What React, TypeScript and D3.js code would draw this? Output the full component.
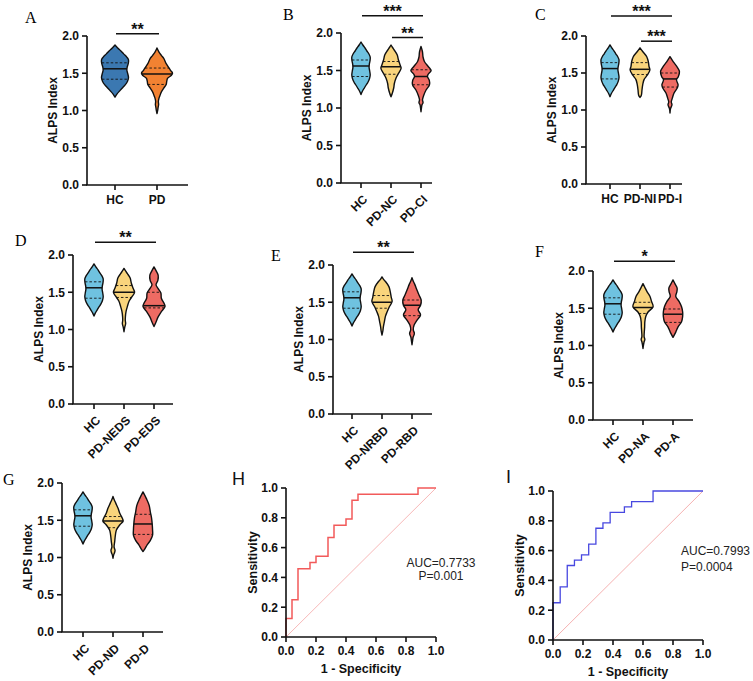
import React from 'react';
import * as d3 from 'd3';

type Prof = [number, number][];

// ---------- Violin density profiles: [ALPS value, relative width] ----------
const HC_prof: Prof = [[1.18,0],[1.22,0.14],[1.27,0.38],[1.31,0.58],[1.34,0.74],[1.39,0.92],[1.44,1.0],[1.49,0.95],[1.54,0.88],[1.58,0.9],[1.63,0.98],[1.68,1.0],[1.72,0.86],[1.76,0.64],[1.8,0.44],[1.84,0.2],[1.88,0]];
const PD_prof: Prof = [[0.96,0],[1.0,0.05],[1.04,0.08],[1.08,0.12],[1.12,0.1],[1.16,0.14],[1.2,0.22],[1.24,0.3],[1.3,0.5],[1.35,0.68],[1.39,0.72],[1.43,0.78],[1.47,1.05],[1.5,1.15],[1.54,1.0],[1.58,0.86],[1.63,0.68],[1.7,0.5],[1.74,0.32],[1.78,0.16],[1.84,0]];
const PDNC_prof: Prof = [[1.15,0],[1.2,0.15],[1.27,0.3],[1.33,0.37],[1.4,0.55],[1.46,0.81],[1.53,1.1],[1.57,1.0],[1.64,0.81],[1.71,0.67],[1.77,0.37],[1.81,0.15],[1.84,0]];
const PDCI_prof: Prof = [[0.95,0],[1.0,0.05],[1.04,0.1],[1.07,0.22],[1.11,0.16],[1.17,0.3],[1.24,0.55],[1.31,0.92],[1.37,0.9],[1.42,0.7],[1.45,0.78],[1.5,1.1],[1.55,0.8],[1.62,0.37],[1.68,0.22],[1.75,0.16],[1.82,0]];
const PDNI_prof: Prof = [[1.17,0],[1.2,0.15],[1.27,0.22],[1.34,0.3],[1.41,0.45],[1.47,0.8],[1.54,1.1],[1.59,1.0],[1.65,0.93],[1.72,0.75],[1.79,0.3],[1.84,0]];
const PDI_prof: Prof = [[0.96,0],[1.02,0.06],[1.07,0.22],[1.11,0.14],[1.16,0.26],[1.23,0.45],[1.3,0.82],[1.34,0.9],[1.41,0.72],[1.45,0.92],[1.52,1.05],[1.59,0.75],[1.65,0.37],[1.72,0]];
const PDNEDS_prof: Prof = [[0.97,0],[1.03,0.08],[1.08,0.18],[1.12,0.14],[1.17,0.15],[1.24,0.22],[1.31,0.37],[1.38,0.55],[1.45,0.93],[1.5,1.15],[1.55,1.0],[1.62,0.8],[1.69,0.67],[1.75,0.37],[1.79,0.15],[1.82,0]];
const PDEDS_prof: Prof = [[1.04,0],[1.1,0.22],[1.17,0.45],[1.24,0.8],[1.31,1.2],[1.35,1.1],[1.42,0.8],[1.49,0.75],[1.55,0.45],[1.6,0.22],[1.66,0.42],[1.73,0.45],[1.79,0.22],[1.84,0]];
const PDNRBD_prof: Prof = [[1.06,0],[1.12,0.1],[1.17,0.15],[1.24,0.26],[1.31,0.37],[1.37,0.55],[1.44,0.8],[1.51,1.1],[1.57,1.0],[1.64,0.9],[1.71,0.75],[1.78,0.37],[1.81,0.15],[1.84,0]];
const PDRBD_prof: Prof = [[0.93,0],[0.98,0.06],[1.03,0.12],[1.08,0.26],[1.13,0.14],[1.19,0.22],[1.26,0.55],[1.33,0.93],[1.4,0.67],[1.46,0.93],[1.53,1.0],[1.6,0.75],[1.66,0.55],[1.74,0.3],[1.79,0.12],[1.83,0]];
const PDNA_prof: Prof = [[0.96,0],[1.01,0.06],[1.05,0.12],[1.08,0.2],[1.12,0.12],[1.18,0.14],[1.25,0.18],[1.32,0.2],[1.39,0.3],[1.45,0.55],[1.52,1.1],[1.59,0.93],[1.66,0.75],[1.72,0.45],[1.78,0.2],[1.83,0]];
const PDA_prof: Prof = [[1.11,0],[1.18,0.3],[1.25,0.55],[1.32,0.93],[1.39,1.05],[1.45,1.05],[1.52,0.93],[1.59,0.67],[1.66,0.3],[1.72,0.42],[1.77,0.45],[1.82,0.25],[1.88,0]];
const PDND_prof: Prof = [[0.99,0],[1.03,0.06],[1.07,0.18],[1.1,0.22],[1.14,0.12],[1.21,0.18],[1.3,0.26],[1.37,0.37],[1.44,0.75],[1.49,1.1],[1.53,1.0],[1.59,0.75],[1.66,0.55],[1.73,0.3],[1.78,0.12],[1.82,0]];
const PDD_prof: Prof = [[1.08,0],[1.12,0.22],[1.17,0.45],[1.23,0.8],[1.3,1.04],[1.37,1.04],[1.45,1.0],[1.53,0.93],[1.61,0.8],[1.7,0.67],[1.79,0.37],[1.88,0]];

// ---------- Quartiles: [Q1, median, Q3] ----------
const HC_q = [1.42, 1.56, 1.64];
const PD_q = [1.35, 1.49, 1.57];
const PDNC_q = [1.45, 1.55, 1.62];
const PDCI_q = [1.31, 1.42, 1.51];
const PDNI_q = [1.48, 1.55, 1.64];
const PDI_q = [1.31, 1.42, 1.5];
const PDNEDS_q = [1.43, 1.5, 1.59];
const PDEDS_q = [1.29, 1.32, 1.5];
const PDNRBD_q = [1.42, 1.5, 1.59];
const PDRBD_q = [1.32, 1.46, 1.53];
const PDNA_q = [1.43, 1.51, 1.58];
const PDA_q = [1.31, 1.42, 1.49];
const PDND_q = [1.4, 1.49, 1.55];
const PDD_q = [1.31, 1.45, 1.58];

const profiles: Record<string, Prof> = {
  'HC': HC_prof, 'PD': PD_prof, 'PD-NC': PDNC_prof, 'PD-CI': PDCI_prof,
  'PD-NI': PDNI_prof, 'PD-I': PDI_prof, 'PD-NEDS': PDNEDS_prof, 'PD-EDS': PDEDS_prof,
  'PD-NRBD': PDNRBD_prof, 'PD-RBD': PDRBD_prof, 'PD-NA': PDNA_prof, 'PD-A': PDA_prof,
  'PD-ND': PDND_prof, 'PD-D': PDD_prof,
};
const quartiles: Record<string, number[]> = {
  'HC': HC_q, 'PD': PD_q, 'PD-NC': PDNC_q, 'PD-CI': PDCI_q,
  'PD-NI': PDNI_q, 'PD-I': PDI_q, 'PD-NEDS': PDNEDS_q, 'PD-EDS': PDEDS_q,
  'PD-NRBD': PDNRBD_q, 'PD-RBD': PDRBD_q, 'PD-NA': PDNA_q, 'PD-A': PDA_q,
  'PD-ND': PDND_q, 'PD-D': PDD_q,
};

// ---------- Panel categories & significance ----------
const groupsA = ['HC', 'PD'];
const groupsB = ['HC', 'PD-NC', 'PD-CI'];
const groupsC = ['HC', 'PD-NI', 'PD-I'];
const groupsD = ['HC', 'PD-NEDS', 'PD-EDS'];
const groupsE = ['HC', 'PD-NRBD', 'PD-RBD'];
const groupsF = ['HC', 'PD-NA', 'PD-A'];
const groupsG = ['HC', 'PD-ND', 'PD-D'];

type Sig = { from: string; to: string; label: string; level: number };
const sigA: Sig[] = [{ from: 'HC', to: 'PD', label: '**', level: 2.03 }];
const sigB: Sig[] = [{ from: 'HC', to: 'PD-CI', label: '***', level: 2.23 }, { from: 'PD-NC', to: 'PD-CI', label: '**', level: 1.94 }];
const sigC: Sig[] = [{ from: 'HC', to: 'PD-I', label: '***', level: 2.27 }, { from: 'PD-NI', to: 'PD-I', label: '***', level: 1.93 }];
const sigD: Sig[] = [{ from: 'HC', to: 'PD-EDS', label: '**', level: 2.17 }];
const sigE: Sig[] = [{ from: 'HC', to: 'PD-RBD', label: '**', level: 2.17 }];
const sigF: Sig[] = [{ from: 'HC', to: 'PD-A', label: '*', level: 2.13 }];
const sigG: Sig[] = [];

const yTicksViolin = [0, 0.5, 1.0, 1.5, 2.0];

// ---------- ROC data ----------
const rocH_fpr = [0, 0, 0.04, 0.08, 0.16, 0.2, 0.28, 0.32, 0.4, 0.44, 0.48, 0.88, 1.0];
const rocH_tpr = [0, 0.125, 0.25, 0.458, 0.5, 0.542, 0.667, 0.75, 0.792, 0.917, 0.958, 1.0, 1.0];
const rocI_fpr = [0, 0, 0.048, 0.095, 0.143, 0.19, 0.238, 0.286, 0.333, 0.381, 0.476, 0.524, 0.667, 1.0];
const rocI_tpr = [0, 0.25, 0.357, 0.5, 0.536, 0.571, 0.643, 0.75, 0.786, 0.857, 0.893, 0.929, 1.0, 1.0];
const rocTicks = [0, 0.2, 0.4, 0.6, 0.8, 1.0];

// ---------- styling / layout ----------
const SANS = "'Liberation Sans', Arial, Helvetica, sans-serif";
const SERIF = "'Liberation Serif', 'Times New Roman', serif";
const BLUE_DARK = '#3b78b1';
const ORANGE = '#f28232';
const BLUE_LIGHT = '#6fc2e0';
const YELLOW = '#f9d47c';
const RED = '#ee6b63';

type PanelCfg = {
  letter: string; lx: number; ly: number;
  groups: string[]; colors: string[]; sig: Sig[];
  axX: number; yTop: number; yBot: number; c0: number; c1: number; xEnd: number;
  halfW: number; rotate: boolean;
};

const panels: PanelCfg[] = [
  { letter: 'A', lx: 25, ly: 23, groups: groupsA, colors: [BLUE_DARK, ORANGE], sig: sigA, axX: 87, yTop: 36, yBot: 185, c0: 115, c1: 157, xEnd: 188, halfW: 13.5, rotate: false },
  { letter: 'B', lx: 283, ly: 20, groups: groupsB, colors: [BLUE_LIGHT, YELLOW, RED], sig: sigB, axX: 341, yTop: 33, yBot: 183, c0: 361, c1: 421, xEnd: 432, halfW: 9.2, rotate: true },
  { letter: 'C', lx: 535, ly: 20, groups: groupsC, colors: [BLUE_LIGHT, YELLOW, RED], sig: sigC, axX: 586, yTop: 36, yBot: 184, c0: 610, c1: 670, xEnd: 682, halfW: 9, rotate: false },
  { letter: 'D', lx: 15, ly: 246, groups: groupsD, colors: [BLUE_LIGHT, YELLOW, RED], sig: sigD, axX: 73, yTop: 255, yBot: 404, c0: 94, c1: 154, xEnd: 173, halfW: 9.2, rotate: true },
  { letter: 'E', lx: 271, ly: 261, groups: groupsE, colors: [BLUE_LIGHT, YELLOW, RED], sig: sigE, axX: 333, yTop: 265, yBot: 414, c0: 352, c1: 412, xEnd: 432, halfW: 9.2, rotate: true },
  { letter: 'F', lx: 535, ly: 257, groups: groupsF, colors: [BLUE_LIGHT, YELLOW, RED], sig: sigF, axX: 593, yTop: 271, yBot: 420, c0: 613, c1: 673, xEnd: 693, halfW: 9.2, rotate: true },
  { letter: 'G', lx: 3, ly: 485, groups: groupsG, colors: [BLUE_LIGHT, YELLOW, RED], sig: sigG, axX: 62, yTop: 483, yBot: 632, c0: 83, c1: 143, xEnd: 163, halfW: 9.2, rotate: true },
];

function ViolinPanel({ cfg }: { cfg: PanelCfg }) {
  const y = d3.scaleLinear().domain([0, 2]).range([cfg.yBot, cfg.yTop]);
  const x = d3.scalePoint<string>().domain(cfg.groups).range([cfg.c0, cfg.c1]);
  const midY = (cfg.yTop + cfg.yBot) / 2;
  return (
    <g>
      <text x={cfg.lx} y={cfg.ly} fontFamily={SERIF} fontSize={16}>{cfg.letter}</text>
      {cfg.groups.map((g, i) => {
        const cx = x(g)!;
        const prof = profiles[g];
        const area = d3.area<[number, number]>()
          .x0(d => cx - d[1] * cfg.halfW)
          .x1(d => cx + d[1] * cfg.halfW)
          .y(d => y(d[0]))
          .curve(d3.curveCatmullRom.alpha(0.5));
        const wScale = d3.scaleLinear().domain(prof.map(p => p[0])).range(prof.map(p => p[1]));
        const q = quartiles[g];
        return (
          <g key={g}>
            <path d={area(prof) || ''} fill={cfg.colors[i]} stroke="#111" strokeWidth={1.4} strokeLinejoin="round" />
            {q.map((v, k) => {
              const w = wScale(v) * cfg.halfW;
              return (
                <line key={k} x1={cx - w} x2={cx + w} y1={y(v)} y2={y(v)} stroke="#111"
                  strokeWidth={k === 1 ? 1.5 : 0.9} strokeDasharray={k === 1 ? undefined : '2.5,2'} />
              );
            })}
          </g>
        );
      })}
      <line x1={cfg.axX} x2={cfg.axX} y1={y(2)} y2={cfg.yBot} stroke="#111" strokeWidth={1.6} />
      {yTicksViolin.map(t => (
        <g key={t}>
          <line x1={cfg.axX - 5} x2={cfg.axX} y1={y(t)} y2={y(t)} stroke="#111" strokeWidth={1.6} />
          <text x={cfg.axX - 8} y={y(t)} dy="0.36em" textAnchor="end" fontFamily={SANS} fontWeight="bold" fontSize={12} fill="#111">{t.toFixed(1)}</text>
        </g>
      ))}
      <text transform={`translate(${cfg.axX - 34},${midY}) rotate(-90)`} dy="0.36em" textAnchor="middle" fontFamily={SANS} fontWeight="bold" fontSize={12} fill="#111">ALPS Index</text>
      <line x1={cfg.axX - 0.8} x2={cfg.xEnd} y1={cfg.yBot} y2={cfg.yBot} stroke="#111" strokeWidth={1.6} />
      {cfg.groups.map(g => (
        <g key={g}>
          <line x1={x(g)} x2={x(g)} y1={cfg.yBot} y2={cfg.yBot + 5} stroke="#111" strokeWidth={1.6} />
          {cfg.rotate ? (
            <text transform={`translate(${x(g)! + 4},${cfg.yBot + 14}) rotate(-45)`} dy="0.36em" textAnchor="end" fontFamily={SANS} fontWeight="bold" fontSize={12} fill="#111">{g}</text>
          ) : (
            <text x={x(g)} y={cfg.yBot + 19} textAnchor="middle" fontFamily={SANS} fontWeight="bold" fontSize={12} fill="#111">{g}</text>
          )}
        </g>
      ))}
      {cfg.sig.map((s, i) => {
        const x1 = x(s.from)! + 1;
        const x2 = x(s.to)! + 2;
        const yy = y(s.level);
        return (
          <g key={i}>
            <line x1={x1} x2={x2} y1={yy} y2={yy} stroke="#111" strokeWidth={1.5} />
            <text x={(x1 + x2) / 2} y={yy + 1} textAnchor="middle" fontFamily={SANS} fontWeight="bold" fontSize={16} fill="#111">{s.label}</text>
          </g>
        );
      })}
    </g>
  );
}

type RocCfg = {
  letter: string; lx: number; ly: number; fpr: number[]; tpr: number[]; color: string; diag: string; lw: number;
  x0: number; x1: number; y0: number; y1: number;
  auc: string; p: string; tx: number; ty1: number; ty2: number; anchor: 'middle' | 'start';
};

const rocPanels: RocCfg[] = [
  { letter: 'H', lx: 232, ly: 485, fpr: rocH_fpr, tpr: rocH_tpr, color: '#f25a5a', diag: '#f6b0b0', lw: 1.5,
    x0: 286, x1: 436, y0: 637, y1: 488, auc: 'AUC=0.7733', p: 'P=0.001', tx: 441, ty1: 567, ty2: 580, anchor: 'middle' },
  { letter: 'I', lx: 506, ly: 483, fpr: rocI_fpr, tpr: rocI_tpr, color: '#4848e0', diag: '#f4a8a8', lw: 1.3,
    x0: 553, x1: 703, y0: 640, y1: 491, auc: 'AUC=0.7993', p: 'P=0.0004', tx: 681, ty1: 555, ty2: 571, anchor: 'start' },
];

function RocPanel({ cfg }: { cfg: RocCfg }) {
  const x = d3.scaleLinear().domain([0, 1]).range([cfg.x0, cfg.x1]);
  const y = d3.scaleLinear().domain([0, 1]).range([cfg.y0, cfg.y1]);
  const pts = cfg.fpr.map((f, i) => [f, cfg.tpr[i]] as [number, number]);
  const line = d3.line<[number, number]>().x(d => x(d[0])).y(d => y(d[1])).curve(d3.curveStepAfter);
  return (
    <g>
      <text x={cfg.lx} y={cfg.ly} fontFamily={SANS} fontSize={18} fill="#111">{cfg.letter}</text>
      <line x1={x(0)} y1={y(0)} x2={x(1)} y2={y(1)} stroke={cfg.diag} strokeWidth={0.9} />
      <path d={line(pts) || ''} fill="none" stroke={cfg.color} strokeWidth={cfg.lw} />
      <line x1={cfg.x0} x2={cfg.x0} y1={cfg.y1} y2={cfg.y0} stroke="#111" strokeWidth={1.6} />
      <line x1={cfg.x0} x2={cfg.x1} y1={cfg.y0} y2={cfg.y0} stroke="#111" strokeWidth={1.6} />
      {rocTicks.map(t => (
        <g key={t}>
          <line x1={cfg.x0 - 5} x2={cfg.x0} y1={y(t)} y2={y(t)} stroke="#111" strokeWidth={1.6} />
          <text x={cfg.x0 - 8} y={y(t)} dy="0.36em" textAnchor="end" fontFamily={SANS} fontWeight="bold" fontSize={12} fill="#111">{t.toFixed(1)}</text>
          <line x1={x(t)} x2={x(t)} y1={cfg.y0} y2={cfg.y0 + 5} stroke="#111" strokeWidth={1.6} />
          <text x={x(t)} y={cfg.y0 + 18} textAnchor="middle" fontFamily={SANS} fontWeight="bold" fontSize={12} fill="#111">{t.toFixed(1)}</text>
        </g>
      ))}
      <text transform={`translate(${cfg.x0 - 34},${(cfg.y0 + cfg.y1) / 2}) rotate(-90)`} dy="0.36em" textAnchor="middle" fontFamily={SANS} fontWeight="bold" fontSize={12.5} fill="#111">Sensitivity</text>
      <text x={(cfg.x0 + cfg.x1) / 2} y={cfg.y0 + 36} textAnchor="middle" fontFamily={SANS} fontWeight="bold" fontSize={12.5} fill="#111">1 - Specificity</text>
      <text x={cfg.tx} y={cfg.ty1} textAnchor={cfg.anchor} fontFamily={SANS} fontSize={12} fill="#222">{cfg.auc}</text>
      <text x={cfg.tx} y={cfg.ty2} textAnchor={cfg.anchor} fontFamily={SANS} fontSize={12} fill="#222">{cfg.p}</text>
    </g>
  );
}

export default function App() {
  return (
    <div style={{ position: 'absolute', left: 0, top: 0 }}>
      <svg width={753} height={681} viewBox="0 0 753 681" style={{ display: 'block', background: '#fff' }}>
        <rect width={753} height={681} fill="#fff" />
        {panels.map(p => <ViolinPanel key={p.letter} cfg={p} />)}
        {rocPanels.map(p => <RocPanel key={p.letter} cfg={p} />)}
      </svg>
    </div>
  );
}
